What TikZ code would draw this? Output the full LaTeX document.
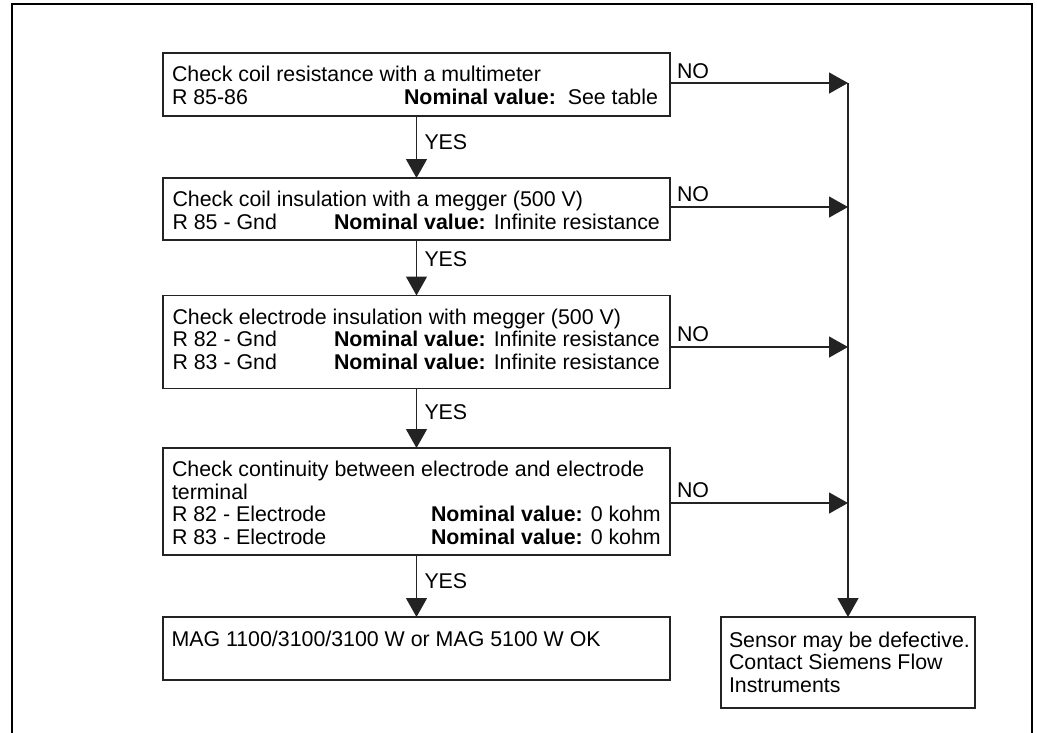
\documentclass[tikz,border=0pt]{standalone}
\usepackage{fontspec}
\setmainfont{Liberation Sans}
\usetikzlibrary{arrows.meta,calc}
\definecolor{lineclr}{RGB}{35,35,35}
\begin{document}
\begin{tikzpicture}[x=1pt,y=-1pt,
  box/.style={draw=lineclr, line width=1.4pt, rectangle, anchor=north west,
    inner sep=0pt, outer sep=0pt, minimum width=507pt},
  txt/.style={anchor=base west, inner sep=0pt, outer sep=0pt,
    font=\fontsize{21.35pt}{22.5pt}\selectfont, text=black},
  arr/.style={draw=lineclr, line width=1.3pt, -{Triangle[length=19pt,width=21pt]}},
  plain/.style={draw=lineclr, line width=1.3pt},
  frame/.style={draw=black, line width=1.5pt}
]
\useasboundingbox (0,0) rectangle (1037,732);
\fill[white] (0,0) rectangle (1037,732);
% outer frame
\draw[frame] (12,740) -- (12,4) -- (1032,4) -- (1032,740);

% boxes
\node[box, minimum height=63pt] (b1) at (163,53) {};
\node[box, minimum height=62pt] (b2) at (163,178) {};
\node[box, minimum height=93pt] (b3) at (163,295.5) {};
\node[box, minimum height=107pt] (b4) at (163,448) {};
\node[box, minimum height=63pt] (b5) at (163,617) {};
\node[box, minimum width=254pt, minimum height=91pt] (s) at (721,617) {};

% texts
\node[txt] (t1) at ([xshift=9pt,yshift=-28.5pt]b1.north west) {\begin{tabular}[t]{@{}l@{}}
Check coil resistance with a multimeter\\
\makebox[486pt][l]{R 85-86\hfill\textbf{Nominal value:}\ \ See table}
\end{tabular}};
\node[txt] (t2) at ([xshift=9.5pt,yshift=-28.5pt]b2.north west) {\begin{tabular}[t]{@{}l@{}}
Check coil insulation with a megger (500 V)\\
\makebox[161.5pt][l]{R 85 - Gnd}\textbf{Nominal value:} Infinite resistance
\end{tabular}};
\node[txt] (t3) at ([xshift=9.5pt,yshift=-28.5pt]b3.north west) {\begin{tabular}[t]{@{}l@{}}
Check electrode insulation with megger (500 V)\\
\makebox[161.5pt][l]{R 82 - Gnd}\textbf{Nominal value:} Infinite resistance\\
\makebox[161.5pt][l]{R 83 - Gnd}\textbf{Nominal value:} Infinite resistance
\end{tabular}};
\node[txt] (t4) at ([xshift=9pt,yshift=-28.5pt]b4.north west) {\begin{tabular}[t]{@{}l@{}}
Check continuity between electrode and electrode\\
terminal\\
\makebox[259pt][l]{R 82 - Electrode}\textbf{Nominal value:} 0 kohm\\
\makebox[259pt][l]{R 83 - Electrode}\textbf{Nominal value:} 0 kohm
\end{tabular}};
\node[txt] (t5) at ([xshift=8.5pt,yshift=-29pt]b5.north west) {MAG 1100/3100/3100 W or MAG 5100 W OK};
\node[txt] (ts) at ([xshift=8pt,yshift=-30pt]s.north west) {\begin{tabular}[t]{@{}l@{}}
Sensor may be defective.\\
Contact Siemens Flow\\
Instruments
\end{tabular}};

% YES connectors
\draw[arr] (b1.south) -- (b2.north);
\draw[arr] (b2.south) -- (b3.north);
\draw[arr] (b3.south) -- (b4.north);
\draw[arr] (b4.south) -- (b5.north);
\node[txt] (y1) at ([xshift=8pt,yshift=29pt]b2.north) {YES};
\node[txt] (y2) at ([xshift=8pt,yshift=29pt]b3.north) {YES};
\node[txt] (y3) at ([xshift=8pt,yshift=29pt]b4.north) {YES};
\node[txt] (y4) at ([xshift=8pt,yshift=29pt]b5.north) {YES};

% NO connectors
\coordinate (n1) at ([yshift=1.5pt]b1.east);
\coordinate (n2) at ([yshift=2pt]b2.east);
\coordinate (n3) at ([yshift=-5pt]b3.east);
\coordinate (n4) at ([yshift=-1.5pt]b4.east);
\coordinate (rtop) at (n1 -| s.north);
\draw[arr] (n1) -- (n1 -| s.north);
\draw[arr] (n2) -- (n2 -| s.north);
\draw[arr] (n3) -- (n3 -| s.north);
\draw[arr] (n4) -- (n4 -| s.north);
\draw[arr] (rtop) -- (s.north);
\node[txt] (o1) at ([xshift=7pt,yshift=5pt]n1) {NO};
\node[txt] (o2) at ([xshift=7pt,yshift=5.5pt]n2) {NO};
\node[txt] (o3) at ([xshift=7pt,yshift=5.5pt]n3) {NO};
\node[txt] (o4) at ([xshift=7pt,yshift=5.5pt]n4) {NO};
\end{tikzpicture}
\end{document}
